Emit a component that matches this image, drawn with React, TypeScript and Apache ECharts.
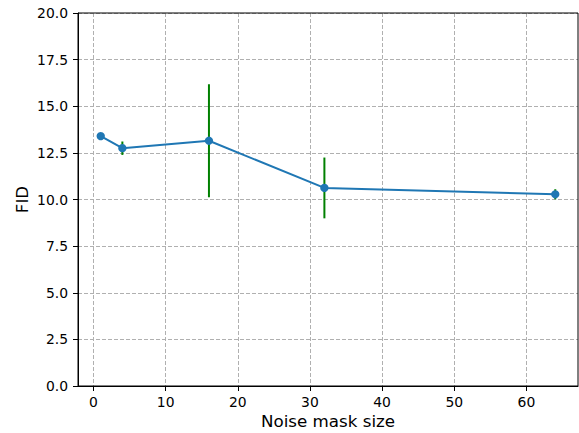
import React, { useEffect, useRef } from "react";
import * as echarts from "echarts";

const xValues = [1, 4, 16, 32, 64];
const fidValues = [13.4, 12.75, 13.15, 10.62, 10.28];
const fidErrors = [0, 0.36, 3.03, 1.63, 0.27];
const xTickValues = [0, 10, 20, 30, 40, 50, 60];

export default function App() {
  const ref = useRef<HTMLDivElement>(null);
  useEffect(() => {
    if (!ref.current) return;
    const chart = echarts.init(ref.current, null, { renderer: "svg" });
    const font = "DejaVu Sans";
    const errData = xValues.map((x, i) => [x, fidValues[i] - fidErrors[i], fidValues[i] + fidErrors[i]]);
    chart.setOption({
      animation: false,
      backgroundColor: "#ffffff",
      grid: {
        left: 78,
        right: 1,
        top: 13,
        bottom: 47,
        containLabel: false,
        outerBoundsMode: "none",
        show: true,
        borderColor: "#000000",
        borderWidth: 1,
        backgroundColor: "transparent",
        z: 10,
      },
      xAxis: {
        type: "value",
        min: -2.15,
        max: 67.15,
        name: "Noise mask size",
        nameLocation: "middle",
        nameGap: 26,
        nameMoveOverlap: false,
        nameTextStyle: { fontFamily: font, fontSize: 16.7, color: "#000" },
        axisLine: { show: true, onZero: false, lineStyle: { color: "#000", width: 1 } },
        axisTick: { show: true, length: 5, lineStyle: { color: "#000" }, customValues: xTickValues },
        axisLabel: {
          fontFamily: font,
          fontSize: 13.9,
          color: "#000",
          margin: 9,
          customValues: xTickValues,
        },
        splitLine: { show: true, lineStyle: { color: "#b0b0b0", type: [4, 2], width: 1 } },
      },
      yAxis: {
        type: "value",
        min: 0,
        max: 20,
        interval: 2.5,
        name: "FID",
        nameLocation: "middle",
        nameGap: 48,
        nameMoveOverlap: false,
        nameRotate: 90,
        nameTextStyle: { fontFamily: font, fontSize: 16.7, color: "#000" },
        axisLine: { show: true, onZero: false, lineStyle: { color: "#000", width: 1 } },
        axisTick: { show: true, length: 5, lineStyle: { color: "#000" } },
        axisLabel: {
          fontFamily: font,
          fontSize: 13.9,
          color: "#000",
          margin: 10,
          formatter: (v: number) => v.toFixed(1),
        },
        splitLine: { show: true, lineStyle: { color: "#b0b0b0", type: [4, 2], width: 1 } },
      },
      series: [
        {
          type: "custom",
          z: 2,
          data: errData,
          encode: { x: 0, y: [1, 2] },
          renderItem: (params: any, api: any) => {
            const x = api.value(0);
            const lo = api.coord([x, api.value(1)]);
            const hi = api.coord([x, api.value(2)]);
            return {
              type: "line",
              shape: { x1: lo[0], y1: lo[1], x2: hi[0], y2: hi[1] },
              style: { stroke: "#008000", lineWidth: 2 },
            };
          },
        },
        {
          type: "line",
          z: 3,
          data: xValues.map((x, i) => [x, fidValues[i]]),
          symbol: "circle",
          symbolSize: 8.3,
          showSymbol: true,
          lineStyle: { color: "#1f77b4", width: 2 },
          itemStyle: { color: "#1f77b4", borderWidth: 0 },
        },
      ],
    });
    return () => chart.dispose();
  }, []);
  return (
    <div
      ref={ref}
      style={{ position: "fixed", left: 0, top: 0, width: 579, height: 433 }}
    />
  );
}
